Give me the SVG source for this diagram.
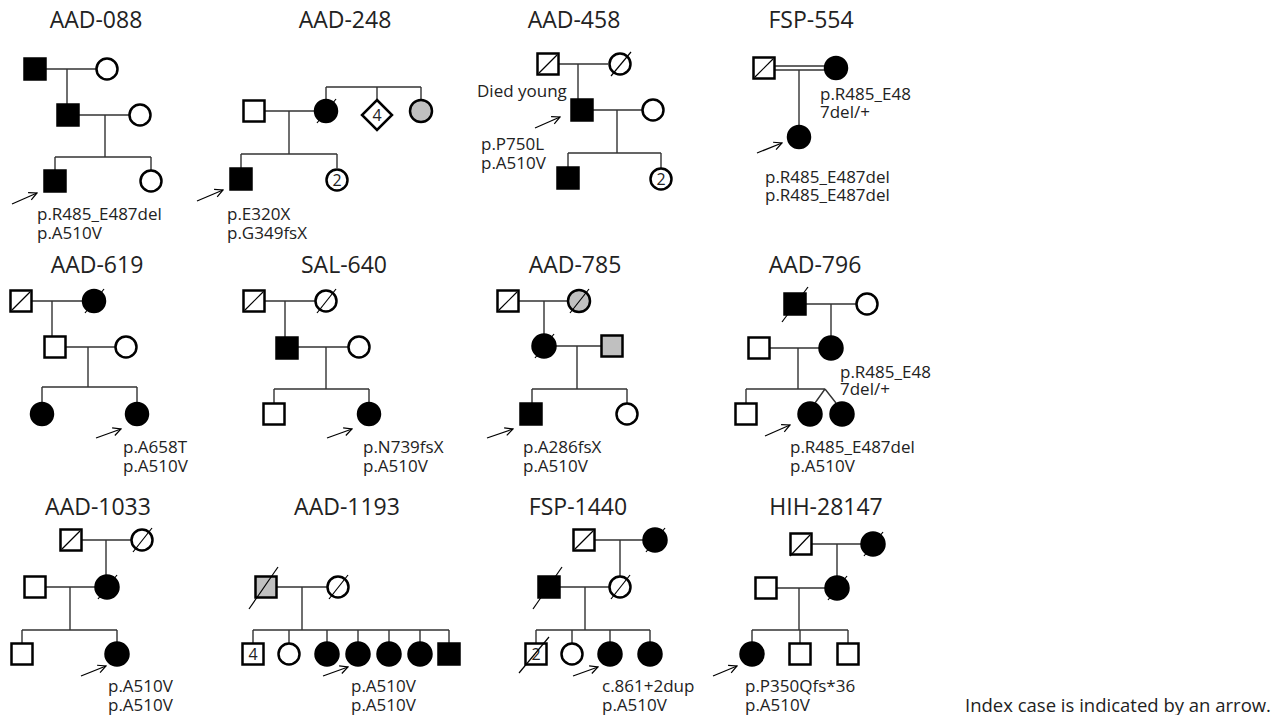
<svg xmlns="http://www.w3.org/2000/svg" width="1276" height="715" viewBox="0 0 1276 715">
<style>
.o{fill:#fff;stroke:#000;stroke-width:2.5}
.f{fill:#000;stroke:#000;stroke-width:2.5}
.g{fill:#c0c0c0;stroke:#000;stroke-width:2.5}
.ln{stroke:#333;stroke-width:1.4;fill:none}
.sl{stroke:#000;stroke-width:1.2;fill:none}
.ar{stroke:#000;stroke-width:1.2;fill:none;marker-end:url(#ah)}
text{font-family:"Open Sans","Noto Sans","DejaVu Sans",sans-serif;fill:#222}
.tt{font-size:23px;text-anchor:middle}
.lb{font-size:17px}
.lg{font-size:18.5px}
.in{font-size:16px;text-anchor:middle}
</style>
<defs>
<marker id="ah" markerWidth="10" markerHeight="10" refX="9" refY="5" orient="auto" markerUnits="userSpaceOnUse">
<path d="M1,1 L9,5 L1,9" fill="none" stroke="#000" stroke-width="1.2"/>
</marker>
</defs>
<rect width="1276" height="715" fill="#fff"/>

<g id="connectors">
<!-- AAD-088 -->
<path class="ln" d="M46,69H96M67,69V104M79,115H129M105,115V157M55,157H151M55,157V170M151,157V170"/>
<!-- AAD-248 -->
<path class="ln" d="M264,111H315M289,111V154M241,154H337M241,154V168M337,154V168M326,87H421M326,87V100M377,87V100M421,87V100"/>
<!-- AAD-458 -->
<path class="ln" d="M559,64H608M578,64V99M593,110H642M617,110V153M568,153H661M568,153V167M661,153V168"/>
<!-- FSP-554 -->
<path class="ln" d="M775,66H825M775,70H825M799,70V125"/>
<!-- AAD-619 -->
<path class="ln" d="M32,301H82M52,301V336M66,347H115M88,347V387M42,387H137M42,387V402M137,387V402"/>
<!-- SAL-640 -->
<path class="ln" d="M265,301H315M285,301V337M298,347H348M326,347V389M274,389H369M274,389V403M369,389V402"/>
<!-- AAD-785 -->
<path class="ln" d="M519,301H568M544,301V334M556,346H601M577,346V389M532,389H627M532,389V403M627,389V403"/>
<!-- AAD-796 -->
<path class="ln" d="M806,304H856M831,304V336M770,348H819M798,348V389M746,389H825M746,389V403M825,389L815,403M825,389L836,403"/>
<!-- AAD-1033 -->
<path class="ln" d="M82,540H131M106,540V575M46,587H95M70,587V630M22,630H117M22,630V643M117,630V642"/>
<!-- AAD-1193 -->
<path class="ln" d="M277,587H327M302,587V630M253,630H449M253,630V643M289,630V643M327,630V642M358,630V642M389,630V642M420,630V642M449,630V643"/>
<!-- FSP-1440 -->
<path class="ln" d="M595,540H643M620,540V576M560,587H609M585,587V630M536,630H650M536,630V643M572,630V643M610,630V642M650,630V642"/>
<!-- HIH-28147 -->
<path class="ln" d="M812,544H862M837,544V577M777,588H826M799,588V630M752,630H848M752,630V642M800,630V643M848,630V643"/>
<!-- index arrows -->
<path class="ar" d="M12,204L37,193"/>
<path class="ar" d="M197,201L223,190"/>
<path class="ar" d="M535,128L560,117"/>
<path class="ar" d="M757,153L782,143"/>
<path class="ar" d="M96,438L121,429"/>
<path class="ar" d="M327,438L352,429"/>
<path class="ar" d="M487,438L513,429"/>
<path class="ar" d="M765,436L790,425"/>
<path class="ar" d="M81,676L106,666"/>
<path class="ar" d="M323,676L348,667"/>
<path class="ar" d="M573,676L598,667"/>
<path class="ar" d="M713,676L737,666"/>
</g>

<g id="AAD-088">
<text class="tt" x="96" y="28">AAD-088</text>
<rect class="f" x="24.5" y="58.5" width="21" height="21"/>
<circle class="o" cx="107" cy="69" r="10.5"/>
<rect class="f" x="57.5" y="104.5" width="21" height="21"/>
<circle class="o" cx="140" cy="115" r="10.5"/>
<rect class="f" x="44.5" y="170.5" width="21" height="21"/>
<circle class="o" cx="151" cy="181" r="10.5"/>
<text class="lb" x="37" y="220">p.R485_E487del</text>
<text class="lb" x="37" y="239">p.A510V</text>
</g>

<g id="AAD-248">
<text class="tt" x="345" y="28">AAD-248</text>
<rect class="o" x="243.5" y="100.5" width="21" height="21"/>
<circle class="f" cx="326" cy="111" r="11"/>
<path class="sl" d="M317,123L336,99"/>
<path class="o" d="M377,100L392,115L377,130L362,115Z"/>
<text class="in" x="377" y="121">4</text>
<circle class="g" cx="421" cy="111" r="11"/>
<rect class="f" x="230.5" y="168.5" width="21" height="21"/>
<circle class="o" cx="337" cy="180" r="10.5"/>
<text class="in" x="337" y="186">2</text>
<text class="lb" x="227" y="220">p.E320X</text>
<text class="lb" x="227" y="239">p.G349fsX</text>
</g>

<g id="AAD-458">
<text class="tt" x="574" y="28">AAD-458</text>
<rect class="o" x="537.5" y="53.5" width="21" height="21"/>
<path class="sl" d="M539,73L557,55"/>
<circle class="o" cx="620" cy="64" r="10.5"/>
<path class="sl" d="M611,76L631,52"/>
<text class="lb" x="477" y="97">Died young</text>
<rect class="f" x="571.5" y="99.5" width="21" height="21"/>
<circle class="o" cx="653" cy="110" r="10.5"/>
<rect class="f" x="557.5" y="167.5" width="21" height="21"/>
<circle class="o" cx="661" cy="179" r="10.5"/>
<text class="in" x="661" y="185">2</text>
<text class="lb" x="481" y="150">p.P750L</text>
<text class="lb" x="481" y="169">p.A510V</text>
</g>

<g id="FSP-554">
<text class="tt" x="811" y="28">FSP-554</text>
<rect class="o" x="753.5" y="57.5" width="21" height="21"/>
<path class="sl" d="M755,77L773,59"/>
<circle class="f" cx="836" cy="68" r="11"/>
<circle class="f" cx="799" cy="137" r="11"/>
<text class="lb" x="820" y="100">p.R485_E48</text>
<text class="lb" x="820" y="118">7del/+</text>
<text class="lb" x="765" y="183">p.R485_E487del</text>
<text class="lb" x="765" y="201">p.R485_E487del</text>
</g>

<g id="AAD-619">
<text class="tt" x="97" y="273">AAD-619</text>
<rect class="o" x="10.5" y="290.5" width="21" height="21"/>
<path class="sl" d="M12,310L30,292"/>
<circle class="f" cx="94" cy="301" r="11"/>
<path class="sl" d="M85,313L104,289"/>
<rect class="o" x="44.5" y="336.5" width="21" height="21"/>
<circle class="o" cx="126" cy="347" r="10.5"/>
<circle class="f" cx="42" cy="414" r="11"/>
<circle class="f" cx="137" cy="414" r="11"/>
<text class="lb" x="123" y="453">p.A658T</text>
<text class="lb" x="123" y="472">p.A510V</text>
</g>

<g id="SAL-640">
<text class="tt" x="344" y="273">SAL-640</text>
<rect class="o" x="243.5" y="290.5" width="21" height="21"/>
<path class="sl" d="M245,310L263,292"/>
<circle class="o" cx="326" cy="301" r="10.5"/>
<path class="sl" d="M317,313L336,289"/>
<rect class="f" x="276.5" y="337.5" width="21" height="21"/>
<circle class="o" cx="359" cy="347" r="10.5"/>
<rect class="o" x="263.5" y="403.5" width="21" height="21"/>
<circle class="f" cx="369" cy="414" r="11"/>
<text class="lb" x="363" y="453">p.N739fsX</text>
<text class="lb" x="363" y="472">p.A510V</text>
</g>

<g id="AAD-785">
<text class="tt" x="575" y="273">AAD-785</text>
<rect class="o" x="497.5" y="290.5" width="21" height="21"/>
<path class="sl" d="M499,310L517,292"/>
<circle class="g" cx="579" cy="301" r="11"/>
<path class="sl" d="M570,313L589,289"/>
<circle class="f" cx="544" cy="346" r="11.5"/>
<path class="sl" d="M535,358L554,334"/>
<rect class="g" x="601.5" y="335.5" width="21" height="21"/>
<rect class="f" x="520.5" y="403.5" width="21" height="21"/>
<circle class="o" cx="627" cy="414" r="10.5"/>
<text class="lb" x="523" y="453">p.A286fsX</text>
<text class="lb" x="523" y="472">p.A510V</text>
</g>

<g id="AAD-796">
<text class="tt" x="815" y="273">AAD-796</text>
<rect class="f" x="784.5" y="293.5" width="21" height="21"/>
<path class="sl" d="M782,322L808,287"/>
<circle class="o" cx="867" cy="304" r="10.5"/>
<rect class="o" x="748.5" y="337.5" width="21" height="21"/>
<circle class="f" cx="831" cy="348" r="11.5"/>
<rect class="o" x="735.5" y="403.5" width="21" height="21"/>
<circle class="f" cx="810" cy="414" r="11.5"/>
<circle class="f" cx="842" cy="414" r="11.5"/>
<text class="lb" x="840" y="378">p.R485_E48</text>
<text class="lb" x="840" y="395">7del/+</text>
<text class="lb" x="790" y="453">p.R485_E487del</text>
<text class="lb" x="790" y="472">p.A510V</text>
</g>

<g id="AAD-1033">
<text class="tt" x="98" y="515">AAD-1033</text>
<rect class="o" x="60.5" y="529.5" width="21" height="21"/>
<path class="sl" d="M62,549L80,531"/>
<circle class="o" cx="142" cy="540" r="10.5"/>
<path class="sl" d="M133,552L152,528"/>
<rect class="o" x="24.5" y="576.5" width="21" height="21"/>
<circle class="f" cx="107" cy="587" r="11.5"/>
<path class="sl" d="M98,599L117,575"/>
<rect class="o" x="11.5" y="643.5" width="21" height="21"/>
<circle class="f" cx="117" cy="654" r="11.5"/>
<text class="lb" x="108" y="692">p.A510V</text>
<text class="lb" x="108" y="711">p.A510V</text>
</g>

<g id="AAD-1193">
<text class="tt" x="347" y="515">AAD-1193</text>
<rect class="g" x="255.5" y="576.5" width="21" height="21"/>
<path class="sl" d="M249,609L278,567"/>
<circle class="o" cx="338" cy="587" r="10.5"/>
<path class="sl" d="M329,599L348,575"/>
<rect class="o" x="242.5" y="643.5" width="21" height="21"/>
<text class="in" x="253" y="660">4</text>
<circle class="o" cx="289" cy="654" r="10.5"/>
<circle class="f" cx="327" cy="654" r="11.5"/>
<circle class="f" cx="358" cy="654" r="11.5"/>
<circle class="f" cx="389" cy="654" r="11.5"/>
<circle class="f" cx="420" cy="654" r="11.5"/>
<rect class="f" x="438.5" y="643.5" width="21" height="21"/>
<text class="lb" x="351" y="692">p.A510V</text>
<text class="lb" x="351" y="711">p.A510V</text>
</g>

<g id="FSP-1440">
<text class="tt" x="578" y="515">FSP-1440</text>
<rect class="o" x="573.5" y="529.5" width="21" height="21"/>
<path class="sl" d="M575,549L593,531"/>
<circle class="f" cx="655" cy="540" r="11.5"/>
<path class="sl" d="M646,552L665,528"/>
<rect class="f" x="538.5" y="576.5" width="21" height="21"/>
<path class="sl" d="M533,609L562,567"/>
<circle class="o" cx="620" cy="587" r="10.5"/>
<path class="sl" d="M611,599L630,575"/>
<rect class="o" x="525.5" y="643.5" width="21" height="21"/>
<text class="in" x="536" y="660">2</text>
<path class="sl" d="M519,673L549,637"/>
<circle class="o" cx="572" cy="654" r="10.5"/>
<circle class="f" cx="610" cy="654" r="11.5"/>
<circle class="f" cx="650" cy="654" r="11.5"/>
<text class="lb" x="602" y="692">c.861+2dup</text>
<text class="lb" x="602" y="711">p.A510V</text>
</g>

<g id="HIH-28147">
<text class="tt" x="826" y="515">HIH-28147</text>
<rect class="o" x="790.5" y="533.5" width="21" height="21"/>
<path class="sl" d="M790,556L810,535"/>
<circle class="f" cx="873" cy="544" r="11.5"/>
<path class="sl" d="M864,556L883,532"/>
<rect class="o" x="755.5" y="577.5" width="21" height="21"/>
<circle class="f" cx="837" cy="588" r="11.5"/>
<path class="sl" d="M828,600L847,576"/>
<circle class="f" cx="752" cy="654" r="11.5"/>
<rect class="o" x="789.5" y="643.5" width="21" height="21"/>
<rect class="o" x="837.5" y="643.5" width="21" height="21"/>
<text class="lb" x="745" y="692">p.P350Qfs*36</text>
<text class="lb" x="745" y="711">p.A510V</text>
</g>

<g id="legend">
<text class="lg" x="965" y="712">Index case is indicated by an arrow.</text>
</g>
</svg>
